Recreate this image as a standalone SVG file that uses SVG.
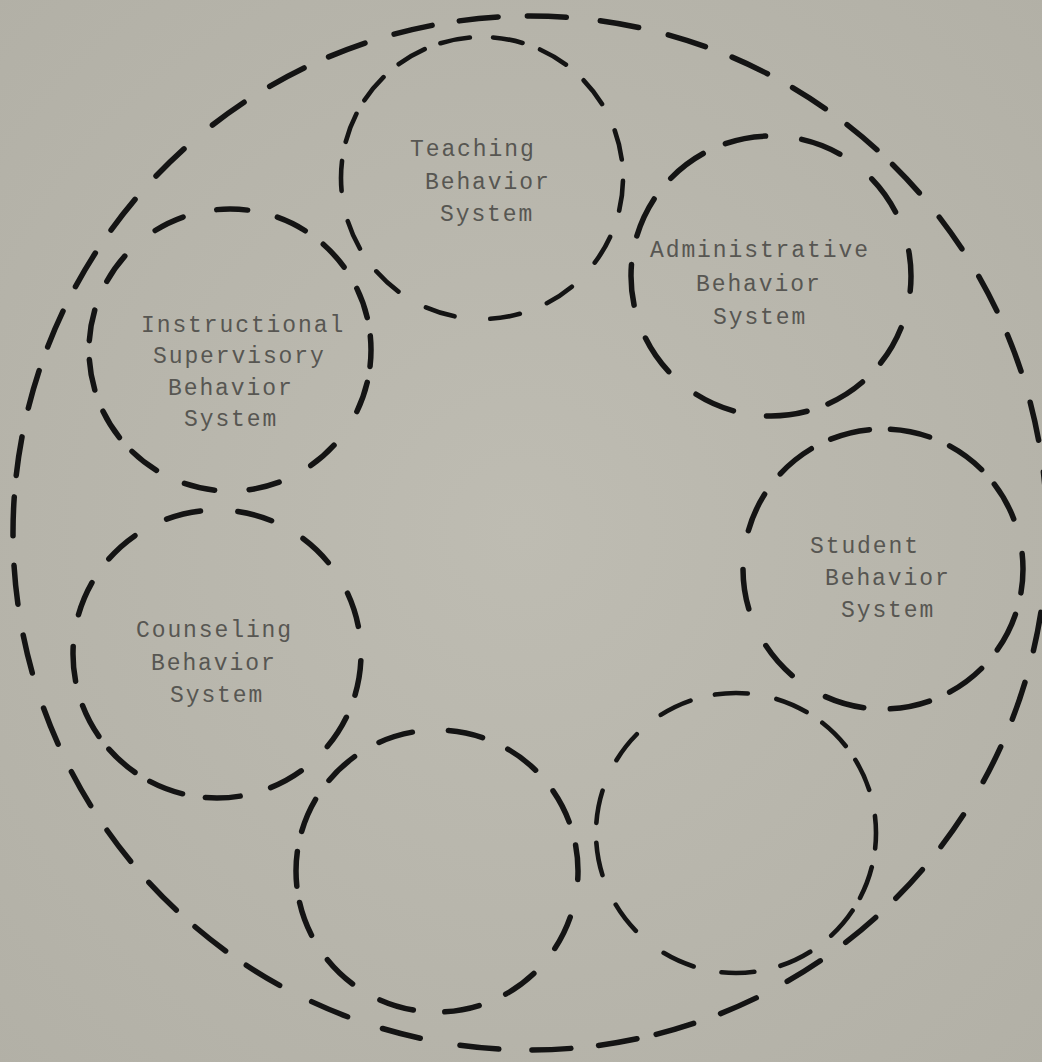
<svg xmlns="http://www.w3.org/2000/svg" width="1042" height="1062" viewBox="0 0 1042 1062">
<defs>
<radialGradient id="bg" cx="50%" cy="50%" r="72%">
<stop offset="0" stop-color="#bebcb2"/>
<stop offset="1" stop-color="#b2b0a6"/>
</radialGradient>
<style>
.ring{fill:none;stroke:#141414;stroke-linecap:round;stroke-width:5.5}
.thin{stroke-width:4.6}
.lbl{font-family:"Liberation Mono","DejaVu Sans Mono",monospace;font-size:23px;letter-spacing:1.9px;fill:#575652}
</style>
</defs>
<rect width="1042" height="1062" fill="url(#bg)"/>
<g id="outer-system">
<circle class="ring" cx="530" cy="533" r="517" stroke-dashoffset="-8.74" stroke-dasharray="39 32.0 39 32.8 39 29.9 39 38.6 39 29.6 39 27.8 39 31.4 39 35.0 39 28.7 39 19.7 39 27.8 39 33.2 39 40.4 39 36.8 39 35.9 39 25.1 39 25.1 39 27.8 39 29.6 39 30.5 39 36.8 39 31.4 39 29.6 39 21.5 39 29.4 39 25.2 39 27.5 39 27.8 39 31.4 39 37.1 39 30.1 39 26.9 39 30.4 39 27.6 39 29.3 39 34.1 39 30.5 39 28.7 39 28.7 39 26.9 39 21.5 39 31.4 39 32.3 39 26.0 39 32.3 39 32.0 39 31.9"/>
</g>
<g id="teaching">
<circle class="ring thin" cx="482" cy="178" r="141" stroke-dashoffset="-2.96" stroke-dasharray="30 27.83 30 33.25 30 29.06 30 35.95 30 31.77 30 28.08 30 31.03 30 19.46 30 15.77 30 19.96 30 16.88 30 23.28 30 18.73 30 23.65 30 29.31 30 21.93"/>
<text class="lbl" x="410" y="156">Teaching</text>
<text class="lbl" x="425" y="189">Behavior</text>
<text class="lbl" x="440" y="221">System</text>
</g>
<g id="administrative">
<circle class="ring" cx="771" cy="276" r="140" stroke-dashoffset="-52.93" stroke-dasharray="41 26.22 41 22.21 41 33.50 41 35.56 41 34.80 41 29.01 41 26.51 41 24.24 41 36.46 41 40.49 41 41.10 41 37.56"/>
<text class="lbl" x="650" y="257">Administrative</text>
<text class="lbl" x="696" y="291">Behavior</text>
<text class="lbl" x="713" y="324">System</text>
</g>
<g id="instructional-supervisory">
<circle class="ring" cx="230" cy="350" r="141" stroke-dashoffset="14.52" stroke-dasharray="31 16.25 31 40.71 31 35.74 31 34.63 31 30.92 31 18.73 31 22.72 31 19.01 31 31.26 31 39.87 31 34.58 31 30.60 31 22.55 31 24.79 31 18.56"/>
<text class="lbl" x="141" y="332">Instructional</text>
<text class="lbl" x="153" y="363">Supervisory</text>
<text class="lbl" x="168" y="395">Behavior</text>
<text class="lbl" x="184" y="426">System</text>
</g>
<g id="student">
<circle class="ring" cx="883" cy="569" r="140" stroke-dashoffset="15.97" stroke-dasharray="40 22.21 40 24.19 40 22.04 40 26.68 40 39.46 40 40.61 40 39.24 40 25.73 40 21.70 40 21.09 40 21.87 40 19.23 40 35.60"/>
<text class="lbl" x="810" y="553">Student</text>
<text class="lbl" x="825" y="585">Behavior</text>
<text class="lbl" x="841" y="617">System</text>
</g>
<g id="counseling">
<circle class="ring" cx="217" cy="654" r="144" stroke-dashoffset="-6.78" stroke-dasharray="35 23.71 35 35.67 35 31.63 35 23.13 35 17.40 35 16.20 35 25.24 35 32.21 35 29.06 35 35.75 35 37.48 35 36.20 35 36.13 35 34.97"/>
<text class="lbl" x="136" y="637">Counseling</text>
<text class="lbl" x="151" y="670">Behavior</text>
<text class="lbl" x="170" y="702">System</text>
</g>
<g id="unnamed-lower-left">
<circle class="ring" cx="437" cy="871" r="141" stroke-dashoffset="-46.98" stroke-dasharray="35 32.68 35 28.89 35 31.64 35 31.69 35 29.16 35 16.41 35 20.49 35 23.20 35 28.29 35 36.14 35 27.73 35 27.06 35 24.09 35 38.46"/>
</g>
<g id="unnamed-lower-right">
<circle class="ring thin" cx="736" cy="833" r="140" stroke-dashoffset="-34.54" stroke-dasharray="33 14.62 33 26.45 33 26.79 33 28.48 33 35.51 33 32.48 33 19.88 33 33.46 33 30.90 33 25.15 33 29.16 33 19.05 33 16.85 33 26.82 33 19.05"/>
</g>
<g id="connectors"/>
</svg>
